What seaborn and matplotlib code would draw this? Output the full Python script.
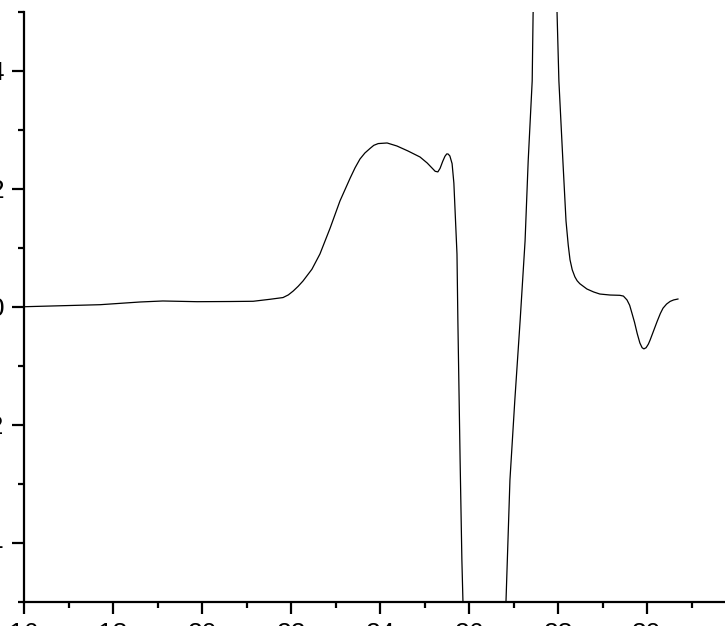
import numpy as np
import pandas as pd
import matplotlib
matplotlib.use("Agg")
import matplotlib.pyplot as plt
from matplotlib.ticker import MultipleLocator
import seaborn as sns

# trace (x in axis units, y in signal units)
field = [16.00, 16.02, 17.71, 18.61, 19.12, 19.89, 20.63, 21.15, 21.53, 21.82,
         21.94, 22.05, 22.16, 22.27, 22.47, 22.65, 22.88, 23.10, 23.33, 23.44,
         23.55, 23.66, 23.78, 23.86, 23.96, 24.16, 24.38, 24.63, 24.90, 25.06,
         25.24, 25.30, 25.35, 25.41, 25.46, 25.50, 25.53, 25.57, 25.62, 25.66,
         25.73, 25.75, 25.80, 25.84, 25.865, 26.35, 26.83, 26.92, 27.03, 27.15,
         27.26, 27.33, 27.42, 27.44, 27.71, 27.98, 28.02, 28.11, 28.18, 28.23,
         28.27, 28.32, 28.38, 28.43, 28.49, 28.65, 28.80, 28.94, 29.17, 29.39,
         29.47, 29.55, 29.61, 29.66, 29.72, 29.78, 29.84, 29.89, 29.93, 29.98,
         30.03, 30.07, 30.15, 30.23, 30.30, 30.36, 30.44, 30.52, 30.60, 30.70]
signal = [0.000, 0.0005, 0.0039, 0.0085, 0.0102, 0.0090, 0.0093, 0.0097, 0.0131, 0.0160,
          0.0205, 0.0271, 0.0350, 0.0441, 0.0640, 0.0898, 0.1339, 0.1797, 0.2186, 0.2360,
          0.2508, 0.2610, 0.2690, 0.2740, 0.2770, 0.2780, 0.2729, 0.2644, 0.2542, 0.2441,
          0.2300, 0.2290, 0.2350, 0.2470, 0.2555, 0.2595, 0.2593, 0.2560, 0.2430, 0.2100,
          0.0898, -0.0237, -0.2593, -0.4288, -0.5017, -1.60, -0.5017, -0.2932, -0.1576, -0.0220,
          0.1119, 0.2475, 0.3831, 0.4949, 1.30, 0.4949, 0.3831, 0.2475, 0.1458, 0.1050,
          0.0800, 0.0630, 0.0510, 0.0445, 0.0395, 0.0305, 0.0255, 0.0220, 0.0203, 0.0198,
          0.0185, 0.0120, 0.0030, -0.0100, -0.0260, -0.0450, -0.0610, -0.0690, -0.0710, -0.0690,
          -0.0630, -0.0560, -0.0400, -0.0240, -0.0110, -0.0020, 0.0050, 0.0095, 0.0120, 0.0136]

xticks = [16, 18, 20, 22, 24, 26, 28, 30]
yticks = [-0.4, -0.2, 0.0, 0.2, 0.4]
ytick_labels = ["-0.4", "-0.2", "0.0", "0.2", "0.4"]

df = pd.DataFrame({"field": field, "signal": signal})

sns.set_theme(style="ticks")
plt.rcParams["font.family"] = ["Liberation Sans", "DejaVu Sans"]

fig = plt.figure(figsize=(7.25, 6.26), dpi=100)
ax = fig.add_axes([24 / 725, 24 / 626, 1 - 24 / 725, 590 / 626])

sns.lineplot(data=df, x="field", y="signal", color="black", linewidth=0.9,
             sort=False, ax=ax)

ax.set_xlim(16, 16 + 701 / 44.5)
ax.set_ylim(-0.5, 0.5)
ax.set_xticks(xticks)
ax.set_xticklabels([str(t) for t in xticks])
ax.set_yticks(yticks)
ax.set_yticklabels(ytick_labels)
ax.xaxis.set_minor_locator(MultipleLocator(1))
ax.yaxis.set_minor_locator(MultipleLocator(0.1))
ax.set_xlabel("")
ax.set_ylabel("")

for side in ["top", "right"]:
    ax.spines[side].set_visible(False)
for side in ["left", "bottom"]:
    ax.spines[side].set_linewidth(1.6)
    ax.spines[side].set_color("black")

ax.tick_params(which="major", direction="out", length=8.6, width=1.6,
               colors="black", labelsize=19, pad=5.5)
ax.tick_params(which="minor", direction="out", length=4.3, width=1.6, colors="black")

plt.savefig("out.png", dpi=100)
